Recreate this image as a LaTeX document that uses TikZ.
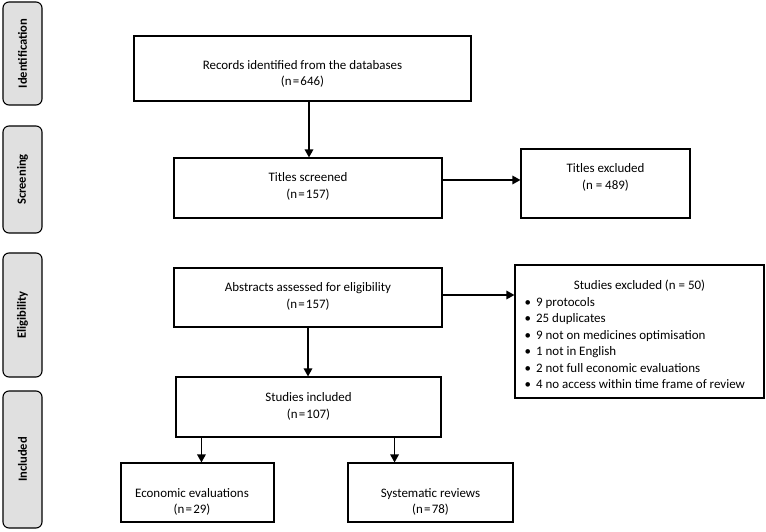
\documentclass[tikz,border=0pt]{standalone}
\usepackage{fontspec}
\setmainfont{Carlito}
\usetikzlibrary{arrows.meta,calc}
\begin{document}
\begin{tikzpicture}[x=1bp,y=-1bp,
  box/.style={draw=black,line width=1.1bp,fill=white,inner sep=0pt},
  txt/.style={align=center,inner sep=0pt,font=\fontsize{13}{16.5}\selectfont},
  side/.style={draw=black,line width=1.1bp,fill=black!12,rounded corners=6bp,inner sep=0pt,
     minimum width=39bp},
  sidetxt/.style={rotate=90,inner sep=0pt,font=\fontsize{12.6}{15}\selectfont\bfseries},
  arr/.style={line width=1.5bp,-{Triangle[length=8bp,width=8.5bp]}}]
\useasboundingbox (0,0) rectangle (766,532);
% side phase labels
\node[side,minimum height=103bp] (sid) at (22.5,53.5) {};
\node[sidetxt] (sidt) at (sid.center) {Identification};
\node[side,minimum height=107bp] (ssc) at (22.5,179.5) {};
\node[sidetxt] (ssct) at (ssc.center) {Screening};
\node[side,minimum height=124bp] (sel) at (22.5,315) {};
\node[sidetxt] (selt) at (sel.center) {Eligibility};
\node[side,minimum height=137bp] (sin) at (22.5,459.5) {};
\node[sidetxt] (sint) at (sin.center) {Included};
% main boxes
\node[box,minimum width=337bp,minimum height=65bp] (rec) at (302.5,68.5) {};
\node[txt] (rect) at (302.5,74) {Records identified from the databases\\(n\kern1.2bp=\kern1.2bp646)};
\node[box,minimum width=268bp,minimum height=60bp] (ts) at (308,188) {};
\node[txt] (tst) at (308,186.5) {Titles screened\\(n\kern1.2bp=\kern1.2bp157)};
\node[box,minimum width=169bp,minimum height=69bp] (te) at (605.5,183.5) {};
\node[txt] (tet) at (605.5,177.5) {Titles excluded\\(n = 489)};
\node[box,minimum width=268bp,minimum height=59bp] (ab) at (308,297.5) {};
\node[txt] (abt) at (308,296.5) {Abstracts assessed for eligibility\\(n\kern1.2bp=\kern1.2bp157)};
\node[box,minimum width=249bp,minimum height=133bp] (se) at (639.5,331.5) {};
\node[txt] (set) at (639.5,286) {Studies excluded (n = 50)};
\node[txt,align=left,anchor=west] (sel2) at (524.5,343)
  {\textbullet\hspace{5bp}9 protocols\\
   \textbullet\hspace{5bp}25 duplicates\\
   \textbullet\hspace{5bp}9 not on medicines optimisation\\
   \textbullet\hspace{5bp}1 not in English\\
   \textbullet\hspace{5bp}2 not full economic evaluations\\
   \textbullet\hspace{5bp}4 no access within time frame of review};
\node[box,minimum width=265bp,minimum height=60bp] (si) at (308.5,407) {};
\node[txt] (sit) at (308.5,406.5) {Studies included\\(n\kern1.2bp=\kern1.2bp107)};
\node[box,minimum width=153bp,minimum height=59bp] (ee) at (197.5,492.5) {};
\node[txt] (eet) at (192,502) {Economic evaluations\\(n\kern1.2bp=\kern1.2bp29)};
\node[box,minimum width=165bp,minimum height=59bp] (sr) at (430.5,492.5) {};
\node[txt] (srt) at (430.5,502) {Systematic reviews\\(n\kern1.2bp=\kern1.2bp78)};
% connectors
\draw[arr] ([xshift=1bp]ts.north |- rec.south) -- ([xshift=1bp]ts.north);
\draw[arr] ([yshift=8bp]ts.east) -- ([yshift=8bp]ts.east -| te.west);
\draw[arr] ([yshift=2.5bp]ab.east) -- ([yshift=2.5bp]ab.east -| se.west);
\draw[arr] (ab.south) -- (ab.south |- si.north);
\draw[arr] ([xshift=26bp]si.south west) -- ([xshift=26bp]si.south west |- ee.north);
\draw[arr] ([xshift=-47bp]si.south east) -- ([xshift=-47bp]si.south east |- sr.north);
\end{tikzpicture}
\end{document}
